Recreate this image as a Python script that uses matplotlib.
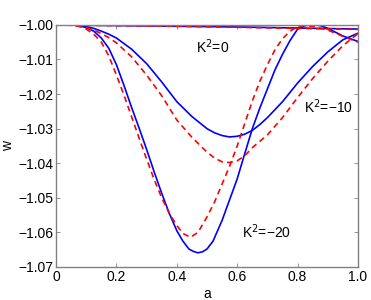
import matplotlib
matplotlib.use("Agg")
import matplotlib.pyplot as plt

plt.rcParams["font.family"] = ["Liberation Sans", "DejaVu Sans"]

# K^2 = 0
a_k0 = [0.0, 0.2, 0.4, 0.6, 0.8, 1.0]
w_k0_blue = [-1.0, -1.0002, -1.0004, -1.0006, -1.0009, -1.0012]
w_k0_red = [-1.0, -1.0002, -1.0004, -1.0007, -1.0010, -1.0013]

# K^2 = -10
a_k10_blue = [0.0, 0.05, 0.075, 0.1, 0.125, 0.15, 0.175, 0.2, 0.25, 0.3, 0.35,
              0.4, 0.45, 0.5, 0.525, 0.55, 0.575, 0.6, 0.625, 0.65, 0.675, 0.7,
              0.75, 0.8, 0.85, 0.9, 0.95, 1.0]
w_k10_blue = [-1.0, -1.0, -1.0002, -1.0005, -1.0010, -1.0018, -1.0027, -1.0038,
              -1.0070, -1.0112, -1.0165, -1.0222, -1.0265, -1.0300, -1.0312,
              -1.0320, -1.0324, -1.0322, -1.0316, -1.0305, -1.0288, -1.0268,
              -1.0222, -1.0168, -1.0120, -1.0078, -1.0043, -1.0024]
a_k10_red = [0.0, 0.05, 0.075, 0.1, 0.125, 0.15, 0.175, 0.2, 0.25, 0.3, 0.35,
             0.4, 0.45, 0.5, 0.525, 0.55, 0.575, 0.6, 0.625, 0.65, 0.7, 0.75,
             0.8, 0.85, 0.9, 0.95, 1.0]
w_k10_red = [-1.0, -1.0001, -1.0003, -1.0008, -1.0015, -1.0025, -1.0037, -1.0052,
             -1.0092, -1.0145, -1.0205, -1.0275, -1.0325, -1.0368, -1.0385,
             -1.0396, -1.0398, -1.0393, -1.0378, -1.0355, -1.0318, -1.0268,
             -1.0210, -1.0155, -1.0105, -1.0060, -1.0025]

# K^2 = -20
a_k20_blue = [0.0, 0.05, 0.075, 0.1, 0.125, 0.15, 0.175, 0.2, 0.225, 0.25, 0.275,
              0.3, 0.325, 0.35, 0.375, 0.4, 0.42, 0.44, 0.455, 0.47, 0.485, 0.5,
              0.52, 0.55, 0.575, 0.6, 0.625, 0.65, 0.675, 0.7, 0.725, 0.75,
              0.775, 0.8, 0.825, 0.85, 0.875, 0.9, 0.95, 1.0]
w_k20_blue = [-1.0, -1.0, -1.0002, -1.0008, -1.0018, -1.0038, -1.0068, -1.0115,
              -1.0175, -1.0238, -1.0298, -1.0360, -1.0425, -1.0487, -1.0545,
              -1.0595, -1.0625, -1.0648, -1.0655, -1.0659, -1.0656, -1.0648,
              -1.0625, -1.0565, -1.0505, -1.0445, -1.0372, -1.0300, -1.0240,
              -1.0185, -1.0130, -1.0085, -1.0045, -1.0012, -1.0002, -0.9999,
              -1.0002, -1.0010, -1.0032, -1.0048]
a_k20_red = [0.0, 0.05, 0.075, 0.1, 0.125, 0.15, 0.175, 0.2, 0.225, 0.25, 0.275,
             0.3, 0.325, 0.35, 0.375, 0.4, 0.42, 0.445, 0.47, 0.5, 0.525, 0.55,
             0.575, 0.6, 0.625, 0.65, 0.675, 0.7, 0.725, 0.75, 0.775, 0.8,
             0.82, 0.85, 0.9, 0.95, 1.0]
w_k20_red = [-1.0, -1.0001, -1.0004, -1.0012, -1.0027, -1.0050, -1.0090, -1.0145,
             -1.0203, -1.0265, -1.0327, -1.0388, -1.0447, -1.0500, -1.0545,
             -1.0580, -1.0603, -1.0614, -1.0600, -1.0555, -1.0512, -1.0460,
             -1.0408, -1.0350, -1.0285, -1.0220, -1.0163, -1.0115, -1.0072,
             -1.0040, -1.0018, -1.0005, -1.0002, -1.0004, -1.0015, -1.0033,
             -1.0050]

x_ticks = [0, 0.2, 0.4, 0.6, 0.8, 1.0]
x_ticklabels = ["0", "0.2", "0.4", "0.6", "0.8", "1.0"]
y_ticks = [-1.07, -1.06, -1.05, -1.04, -1.03, -1.02, -1.01, -1.00]
y_ticklabels = ["\u22121.07", "\u22121.06", "\u22121.05", "\u22121.04",
                "\u22121.03", "\u22121.02", "\u22121.01", "\u22121.00"]

fig = plt.figure(figsize=(3.71, 3.0), dpi=100)
ax = fig.add_axes([0.151, 0.11, 0.814, 0.807])

lw = 1.2
dash = (0, (3.5, 2.5))
ax.plot(a_k0, w_k0_blue, color="blue", lw=lw)
ax.plot(a_k10_blue, w_k10_blue, color="blue", lw=lw)
ax.plot(a_k20_blue, w_k20_blue, color="blue", lw=lw)
ax.plot(a_k0, w_k0_red, color="red", lw=lw, ls=dash)
ax.plot(a_k10_red, w_k10_red, color="red", lw=lw, ls=dash)
ax.plot(a_k20_red, w_k20_red, color="red", lw=lw, ls=dash)

ax.set_xlim(0, 1)
ax.set_ylim(-1.07, -1.0)
ax.set_xticks(x_ticks)
ax.set_xticklabels(x_ticklabels)
ax.set_yticks(y_ticks)
ax.set_yticklabels(y_ticklabels)
ax.tick_params(direction="in", length=3, width=0.6, color="#808080",
               top=True, right=True, labelsize=10, pad=2)
for s in ax.spines.values():
    s.set_color("#808080")
    s.set_linewidth(1.0)

ax.set_xlabel("a", fontsize=10, labelpad=2)
ax.set_ylabel("w", fontsize=10, labelpad=2)

ax.text(0.518, -1.0064, r"K$^2$=0", fontsize=10, ha="center", va="center")
ax.text(0.902, -1.0236, "K$^2$=\u221210", fontsize=10, ha="center", va="center")
ax.text(0.697, -1.0597, "K$^2$=\u221220", fontsize=10, ha="center", va="center")

fig.savefig("out.png", dpi=100)
